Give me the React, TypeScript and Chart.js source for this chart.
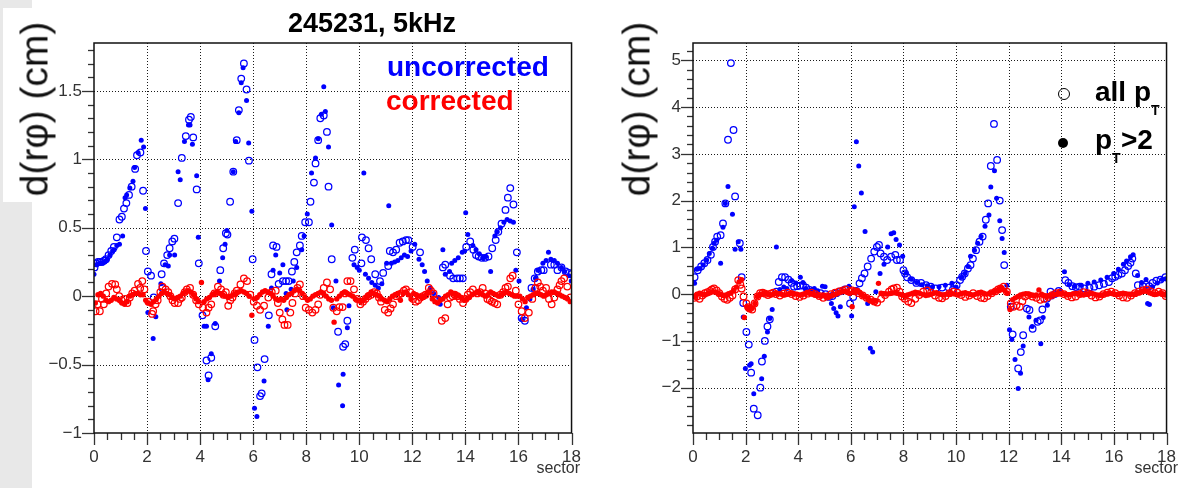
import React, { useEffect, useRef } from "react";
import { Chart, registerables } from "chart.js";

Chart.register(...registerables);

const FONT = '"Liberation Sans", Arial, Helvetica, sans-serif';
const BLUE = "#0000ff";
const RED = "#ff0000";

type Pt = [number, number];

// ---------- axis ticks ----------
const X_TICK_LABELS = [0, 2, 4, 6, 8, 10, 12, 14, 16, 18];
const X_MINOR_STEP = 0.5;
const LEFT_Y_TICK_LABELS = [-1, -0.5, 0, 0.5, 1, 1.5];
const LEFT_Y_MINOR_STEP = 0.1;
const RIGHT_Y_TICK_LABELS = [-2, -1, 0, 1, 2, 3, 4, 5];
const RIGHT_Y_MINOR_STEP = 0.2;

// sector bins (10 per sector) used for the dense "pT>2 corrected" series
const SECTOR_BINS = Array.from({ length: 180 }, (_, i) => (i + 0.5) / 10);

// ---------- LEFT PANEL (245231, 5kHz) ----------
const LEFT_UNCORR_ALL: Pt[] = [
  [0.02,0.21],[0.08,0.24],[0.15,0.25],[0.22,0.25],[0.3,0.25],[0.38,0.26],[0.45,0.27],[0.55,0.3],[0.65,0.33],[0.75,0.36],
  [0.86,0.43],[0.96,0.56],[1.05,0.58],[1.13,0.64],[1.22,0.68],[1.32,0.74],[1.42,0.8],[1.55,0.93],[1.62,1.03],[1.75,1.05],
  [1.85,0.77],[1.96,0.33],
  [2.03,0.18],[2.15,0.15],[2.25,-0.01],[2.55,0.16],[2.58,0.06],[2.64,0.24],[2.76,0.3],[2.85,0.35],[2.95,0.4],[3.03,0.42],
  [3.17,0.68],[3.31,1.01],[3.46,1.17],[3.58,1.29],[3.65,1.31],[3.74,1.16],[3.87,0.78],[3.95,0.24],
  [4.09,-0.14],[4.24,-0.47],[4.32,-0.58],[4.42,-0.45],[4.57,-0.22],[4.76,0.19],[4.87,0.35],[4.97,0.46],[5.03,0.45],[5.13,0.69],
  [5.25,0.91],[5.38,1.14],[5.46,1.36],[5.55,1.59],[5.65,1.7],[5.75,1.51],[5.84,0.99],[5.98,0.27],
  [6.05,-0.32],[6.16,-0.52],[6.26,-0.73],[6.32,-0.71],[6.43,-0.46],[6.59,-0.14],[6.69,0.16],[6.75,0.37],[6.88,0.36],[6.96,0.09],
  [7.12,0.11],[7.24,0.11],[7.34,0.11],[7.46,0.18],[7.55,0.25],[7.64,0.32],[7.76,0.37],[7.83,0.44],[7.96,0.54],
  [8.1,0.54],[8.16,0.69],[8.29,0.83],[8.35,0.97],[8.45,1.14],[8.53,1.3],[8.66,1.32],[8.78,1.2],[8.84,0.8],[8.96,0.27],
  [9.2,-0.26],[9.39,-0.37],[9.47,-0.35],[9.55,-0.18],[9.74,0.28],[9.83,0.34],
  [10.08,0.24],[10.1,0.43],[10.25,0.41],[10.35,0.35],[10.45,0.27],[10.6,0.16],[10.78,0.11],[10.9,0.17],[11.09,0.22],[11.15,0.33],
  [11.27,0.32],[11.39,0.34],[11.52,0.39],[11.64,0.4],[11.76,0.41],[11.85,0.41],[12.01,0.36],
  [12.29,0.32],[13.15,0.21],[13.24,0.23],[13.42,0.15],[13.54,0.13],[13.69,0.13],[13.79,0.13],[13.9,0.13],
  [14.03,0.36],[14.18,0.4],[14.3,0.34],[14.4,0.3],[14.5,0.29],[14.62,0.28],[14.74,0.28],[14.87,0.29],[15.01,0.35],[15.14,0.41],
  [15.24,0.47],[15.36,0.53],[15.51,0.63],[15.6,0.72],[15.69,0.79],[15.81,0.67],[15.94,0.32],
  [16.12,-0.16],[16.24,-0.18],[16.49,0.06],[16.61,0.13],[16.73,0.18],[16.86,0.19],[16.95,0.19],[17.22,0.23],[17.35,0.23],[17.47,0.19],
  [17.62,0.21],[17.78,0.18],[17.9,0.17],[17.99,0.16],
];

const LEFT_UNCORR_PT2: Pt[] = [
  [0.0,0.16],[0.1,0.23],[0.2,0.24],[0.3,0.24],[0.4,0.25],[0.5,0.27],[0.6,0.3],[0.7,0.33],[0.76,0.34],[0.86,0.37],
  [0.96,0.38],[1.08,0.44],[1.17,0.72],[1.23,0.74],[1.35,0.79],[1.47,0.84],[1.53,0.94],[1.66,1.05],[1.78,1.14],[1.87,1.09],[1.94,0.64],
  [2.03,-0.12],[2.23,-0.31],[2.33,-0.15],[2.52,0.09],[2.68,0.23],[2.8,0.22],[2.85,0.3],[3.04,0.3],[3.17,0.91],[3.25,0.85],
  [3.41,1.13],[3.56,1.25],[3.62,1.25],[3.71,1.11],[3.87,0.88],[3.93,0.43],
  [4.15,-0.22],[4.24,-0.22],[4.3,-0.61],[4.42,-0.42],[4.57,-0.2],[4.73,0.11],[4.85,0.28],[4.94,0.38],[5.01,0.48],[5.25,0.91],
  [5.34,1.13],[5.46,1.34],[5.55,1.56],[5.62,1.67],[5.75,1.43],[5.83,1.12],[5.95,0.62],
  [6.05,-0.82],[6.14,-0.88],[6.41,-0.62],[6.57,-0.22],[6.69,0.06],[6.75,0.19],[6.85,0.3],[7.0,0.17],[7.12,0.23],[7.24,0.02],
  [7.27,-0.1],[7.43,0.05],[7.51,0.11],[7.64,0.21],[7.83,0.34],[7.92,0.44],
  [8.04,0.6],[8.2,0.9],[8.35,1.01],[8.45,1.15],[8.57,1.33],[8.66,1.53],[8.72,1.35],[8.84,1.09],[8.96,0.52],[9.02,-0.085],
  [9.12,0.11],[9.22,-0.65],[9.37,-0.8],[9.39,-0.57],[9.55,-0.23],[9.61,-0.07],[9.8,0.23],[9.92,0.21],
  [10.0,0.19],[10.17,0.9],[10.23,0.16],[10.35,0.13],[10.47,0.1],[10.6,0.08],[10.72,0.06],[10.85,0.09],[11.03,0.24],[11.11,0.66],
  [11.21,0.24],[11.33,0.25],[11.45,0.26],[11.58,0.28],[11.7,0.3],[11.82,0.29],[11.95,0.33],
  [12.09,0.38],[12.25,0.27],[12.37,0.23],[12.46,0.18],[12.56,0.11],[12.68,0.06],[12.8,0.02],[12.99,-0.01],[13.05,-0.06],[13.15,0.34],
  [13.24,0.16],[13.4,0.18],[13.48,0.24],[13.6,0.26],[13.73,0.28],[13.88,0.32],[13.97,0.33],
  [14.01,0.61],[14.09,0.45],[14.28,0.37],[14.4,0.34],[14.52,0.31],[14.65,0.28],[14.77,0.29],[14.95,0.18],[15.11,0.44],[15.2,0.47],
  [15.32,0.5],[15.45,0.54],[15.57,0.56],[15.69,0.55],[15.81,0.54],[15.9,0.19],
  [16.02,0.11],[16.12,-0.17],[16.3,-0.085],[16.43,-0.02],[16.55,0.05],[16.64,0.13],[16.73,0.19],[16.92,0.24],[17.04,0.26],[17.13,0.32],
  [17.22,0.27],[17.35,0.26],[17.47,0.24],[17.62,0.21],[17.74,0.18],[17.9,0.15],[17.99,0.11],
];

const LEFT_CORR_ALL: Pt[] = [
  [0.06,-0.11],[0.14,-0.06],[0.22,-0.11],[0.3,-0.02],[0.37,-0.06],[0.46,0.02],[0.55,0.07],[0.68,0.09],[0.8,0.085],[0.86,0.05],
  [0.95,0.0],[1.04,-0.03],[1.17,-0.02],[1.26,-0.05],[1.35,-0.01],[1.44,0.02],[1.53,0.04],[1.66,0.09],[1.74,0.06],[1.82,0.11],
  [1.9,0.05],[2.05,-0.04],[2.19,-0.13],[2.23,-0.11],[2.32,-0.06],[2.4,-0.03],[2.5,0.03],[2.58,0.07],[2.7,0.05],[2.8,0.03],
  [2.88,0.0],[2.96,-0.03],[3.04,-0.05],[3.17,-0.05],[3.24,-0.02],[3.31,-0.01],[3.42,0.03],[3.5,0.05],[3.62,0.06],[3.74,0.01],
  [3.85,-0.03],[3.95,-0.06],[4.11,-0.085],[4.24,-0.12],[4.32,-0.085],[4.42,-0.06],[4.54,0.02],[4.67,0.07],[4.79,0.05],[4.88,0.01],
  [4.97,0.03],[5.06,-0.07],[5.14,-0.03],[5.22,-0.01],[5.3,0.02],[5.38,0.04],[5.52,0.085],[5.65,0.13],[5.77,0.11],[5.89,0.01],
  [6.02,-0.04],[6.14,-0.07],[6.26,-0.1],[6.41,-0.07],[6.57,-0.01],[6.7,0.03],[6.85,0.04],[6.93,-0.05],[7.0,-0.12],[7.1,-0.17],
  [7.18,-0.21],[7.3,-0.21],[7.4,-0.12],[7.48,-0.05],[7.58,0.02],[7.67,0.06],[7.76,0.085],[7.88,0.0],[7.98,-0.085],[8.1,-0.1],
  [8.23,-0.12],[8.35,-0.1],[8.45,-0.06],[8.53,0.01],[8.66,0.06],[8.78,0.1],[8.9,0.05],[9.02,-0.085],[9.15,-0.11],[9.25,-0.08],
  [9.37,-0.08],[9.46,0.02],[9.55,0.11],[9.67,0.11],[9.8,0.05],[9.92,-0.02],[10.04,-0.06],[10.14,-0.04],[10.23,-0.02],[10.34,0.0],
  [10.45,0.01],[10.56,0.03],[10.66,0.02],[10.74,-0.01],[10.82,-0.04],[10.96,-0.1],[11.09,-0.12],[11.18,-0.09],[11.27,-0.06],[11.39,0.0],
  [11.48,0.01],[11.58,0.02],[11.68,0.04],[11.76,0.05],[11.92,0.03],[12.03,-0.02],[12.13,-0.04],[12.22,-0.03],[12.31,-0.01],[12.4,0.0],
  [12.5,0.01],[12.62,0.06],[12.7,0.04],[12.8,0.02],[12.95,-0.03],[13.11,-0.18],[13.24,-0.16],[13.33,-0.06],[13.42,-0.01],[13.52,0.0],
  [13.6,0.01],[13.7,0.0],[13.79,-0.02],[13.91,-0.05],[14.0,-0.02],[14.09,0.01],[14.18,0.03],[14.28,0.05],[14.45,0.02],[14.55,0.03],
  [14.65,0.06],[14.74,0.02],[14.83,-0.02],[14.92,-0.03],[15.0,-0.04],[15.1,-0.05],[15.2,-0.06],[15.32,0.01],[15.42,0.03],[15.51,0.06],
  [15.6,0.07],[15.69,0.13],[15.78,0.15],[15.9,0.04],[16.0,-0.06],[16.12,-0.11],[16.24,-0.16],[16.39,-0.12],[16.52,-0.02],[16.64,0.06],
  [16.73,0.1],[16.82,0.07],[16.92,0.04],[17.04,0.06],[17.15,-0.02],[17.25,-0.06],[17.35,-0.01],[17.47,0.05],[17.55,0.08],[17.62,0.11],
  [17.72,0.13],[17.84,0.07],[17.96,-0.01],
];

const LEFT_CORR_PT2: number[] = [
  -0.05,0.01,0.02,0.0,-0.03,-0.04,-0.03,-0.01,-0.02,-0.03,
  -0.05,-0.06,-0.04,0.0,0.01,0.02,0.02,0.01,0.01,-0.03,
  -0.05,-0.06,-0.04,-0.02,0.0,0.02,0.03,0.02,0.01,-0.01,
  -0.02,-0.01,0.0,0.02,0.03,0.04,0.03,0.01,-0.02,-0.04,
  0.1,-0.04,-0.02,-0.01,0.01,0.02,0.03,0.02,0.01,0.0,
  -0.01,0.0,0.01,0.02,0.03,0.04,0.03,0.02,0.0,-0.14,
  -0.02,-0.01,0.01,0.03,0.04,0.03,0.02,0.0,-0.02,-0.03,
  -0.02,-0.03,-0.01,0.01,0.02,0.04,0.05,0.04,0.02,-0.01,
  -0.03,-0.02,0.0,0.01,0.02,0.03,0.02,0.0,-0.02,-0.03,
  -0.19,-0.02,0.0,0.02,0.03,0.02,0.01,0.0,-0.02,-0.03,
  -0.04,-0.03,-0.01,0.01,0.03,0.02,0.01,0.0,-0.02,-0.03,
  -0.04,-0.02,0.0,0.01,0.02,-0.03,0.02,0.03,0.01,-0.02,
  0.02,0.01,0.0,-0.01,0.0,0.02,0.03,-0.02,-0.04,-0.05,
  -0.03,-0.02,0.0,0.01,0.03,0.02,0.01,0.0,-0.01,-0.03,
  -0.02,-0.01,0.01,0.02,0.03,0.02,0.01,0.0,0.01,0.03,
  0.02,0.01,0.0,0.01,0.02,0.03,0.02,0.01,0.0,0.0,
  0.0,-0.02,-0.04,-0.01,0.0,0.01,0.02,0.02,0.01,0.0,
  0.01,0.02,0.03,0.03,0.02,0.01,0.0,-0.01,-0.02,-0.04,
];

// ---------- RIGHT PANEL ----------
const RIGHT_UNCORR_ALL: Pt[] = [
  [0.06,0.36],[0.18,0.51],[0.31,0.59],[0.43,0.66],[0.55,0.73],[0.68,0.84],[0.76,1.01],[0.84,1.12],[0.92,1.23],[1.05,1.26],
  [1.14,1.51],[1.23,1.94],[1.33,3.3],[1.44,4.94],[1.54,3.51],[1.6,2.09],[1.78,1.09],[1.85,0.36],[1.91,-0.19],[2.03,-0.81],
  [2.12,-1.08],[2.21,-1.68],[2.31,-2.45],[2.46,-2.59],[2.56,-2.0],[2.62,-1.44],[2.73,-1.0],[2.83,-0.69],[2.92,-0.54],[3.17,0.05],
  [3.26,0.26],[3.38,0.36],[3.5,0.36],[3.63,0.31],[3.75,0.24],[3.84,0.16],[3.96,0.17],[4.07,0.18],[4.18,0.19],[4.3,0.14],
  [4.43,0.09],[4.58,0.07],[4.67,0.01],[4.85,0.02],[5.04,0.0],[5.17,-0.06],[5.3,-0.04],[5.45,0.02],[5.6,0.06],[5.78,0.1],
  [5.97,-0.2],[6.09,-0.06],[6.21,0.07],[6.33,0.23],[6.42,0.34],[6.52,0.44],[6.64,0.59],[6.77,0.76],[6.89,0.91],[6.99,1.01],
  [7.07,1.05],[7.13,0.87],[7.26,0.8],[7.38,0.73],[7.53,0.8],[7.69,0.84],[7.75,0.73],[7.87,0.73],[8.0,0.51],[8.06,0.44],
  [8.14,0.36],[8.3,0.3],[8.49,0.24],[8.67,0.24],[8.86,0.19],[9.04,0.16],[9.22,0.12],[9.47,0.14],[9.72,0.14],[9.88,0.1],
  [10.02,0.19],[10.15,0.3],[10.23,0.37],[10.33,0.44],[10.45,0.55],[10.55,0.62],[10.64,0.76],[10.76,0.94],[10.89,1.12],[11.01,1.23],
  [11.13,1.59],[11.22,1.94],[11.32,2.74],[11.44,3.64],[11.56,2.87],[11.66,2.0],[11.75,1.37],[11.83,0.62],[12.08,-0.27],[12.15,-0.86],
  [12.36,-1.59],[12.46,-1.24],[12.55,-0.88],[12.69,-0.31],[12.79,-0.34],[12.91,-0.74],[13.1,-0.59],[13.19,-0.56],[13.28,-0.33],[13.45,-0.1],
  [13.59,0.05],[13.75,0.0],[13.9,0.07],[14.15,0.3],[14.27,0.24],[14.42,0.17],[14.55,0.15],[14.7,0.16],[14.88,0.12],[15.07,0.14],
  [15.25,0.16],[15.44,0.19],[15.62,0.22],[15.81,0.26],[15.93,0.34],[16.05,0.37],[16.17,0.41],[16.3,0.44],[16.42,0.51],[16.54,0.6],
  [16.63,0.67],[16.7,0.76],[16.83,0.44],[16.91,0.19],[17.1,0.17],[17.22,0.2],[17.34,0.17],[17.47,0.24],[17.61,0.29],[17.77,0.31],
  [17.96,0.36],
];

const RIGHT_UNCORR_PT2: Pt[] = [
  [0.06,0.23],[0.15,0.53],[0.27,0.55],[0.39,0.62],[0.52,0.73],[0.62,0.87],[0.74,0.98],[0.8,1.09],[0.9,1.15],[1.05,0.66],
  [1.14,1.43],[1.23,1.94],[1.33,2.3],[1.5,1.71],[1.6,0.96],[1.72,1.12],[1.82,0.96],[1.91,-0.49],[1.99,-1.59],[2.15,-1.52],
  [2.21,-1.49],[2.31,-2.13],[2.61,-1.81],[2.71,-1.33],[2.83,-0.81],[2.92,-0.52],[3.01,-0.33],[3.17,1.01],[3.3,0.1],[3.45,0.15],
  [3.57,0.12],[3.75,0.29],[3.91,0.24],[4.08,0.36],[4.18,0.25],[4.28,0.12],[4.45,0.08],[4.61,0.12],[4.74,0.07],[4.92,0.17],
  [5.02,0.16],[5.15,-0.05],[5.26,-0.2],[5.35,-0.31],[5.44,-0.4],[5.51,-0.47],[5.6,-0.27],[5.75,0.05],[5.93,0.17],[6.03,-0.47],
  [6.13,1.87],[6.21,3.26],[6.3,2.74],[6.4,2.16],[6.54,1.34],[6.64,-0.2],[6.74,-1.16],[6.83,-1.24],[6.95,0.05],[7.11,0.44],
  [7.26,0.64],[7.4,1.01],[7.53,1.29],[7.63,1.31],[7.72,1.17],[7.85,1.05],[7.97,0.81],[8.1,0.45],[8.3,0.32],[8.5,0.25],
  [8.7,0.2],[8.9,0.18],[9.1,0.16],[9.35,0.16],[9.59,0.19],[9.84,0.23],[10.0,0.15],[10.21,0.36],[10.33,0.44],[10.45,0.59],
  [10.55,0.81],[10.7,0.94],[10.82,1.09],[10.95,1.23],[11.1,1.45],[11.25,1.69],[11.32,2.29],[11.46,2.64],[11.54,2.05],[11.66,1.57],
  [11.75,1.19],[11.83,0.89],[11.93,0.19],[12.03,-0.76],[12.12,-0.97],[12.24,-1.4],[12.36,-2.02],[12.45,-1.69],[12.55,-1.11],[12.77,-0.49],
  [12.89,-0.69],[13.04,-0.56],[13.22,-1.06],[13.31,-0.5],[13.47,-0.24],[13.65,-0.06],[13.84,0.01],[13.96,0.07],[14.12,0.48],[14.3,0.2],
  [14.51,0.17],[14.76,0.19],[15.01,0.23],[15.25,0.26],[15.5,0.3],[15.74,0.36],[15.99,0.44],[16.17,0.53],[16.36,0.64],[16.48,0.71],
  [16.63,0.8],[16.73,0.84],[16.9,0.4],[17.05,0.25],[17.22,0.31],[17.28,-0.2],[17.35,-0.22],[17.47,0.16],[17.65,0.24],[17.83,0.31],
  [17.97,0.33],
];

const RIGHT_CORR_ALL: Pt[] = [
  [0.05,-0.08],[0.15,-0.05],[0.25,-0.1],[0.35,-0.03],[0.45,0.02],[0.55,0.04],[0.65,0.07],[0.72,0.1],[0.8,0.12],[0.9,0.08],
  [1.0,0.02],[1.1,-0.05],[1.2,-0.1],[1.3,-0.12],[1.4,-0.08],[1.5,-0.03],[1.6,0.1],[1.72,0.3],[1.8,0.2],[1.85,0.12],[1.92,-0.05],
  [2.03,-0.2],[2.1,-0.28],[2.15,-0.31],[2.25,-0.33],[2.34,-0.2],[2.45,-0.05],[2.55,0.02],[2.65,0.03],[2.75,0.01],[2.85,-0.02],
  [2.95,0.01],[3.05,0.03],[3.15,0.0],[3.3,-0.03],[3.45,0.01],[3.6,0.03],[3.75,0.0],[3.9,-0.04],
  [4.05,-0.06],[4.2,-0.03],[4.35,0.01],[4.5,0.03],[4.65,0.0],[4.8,-0.04],[4.95,-0.08],[5.1,-0.05],[5.25,0.0],[5.4,0.03],
  [5.55,0.06],[5.7,0.08],[5.82,0.1],[5.95,0.05],
  [6.05,0.08],[6.15,0.06],[6.3,0.02],[6.45,-0.03],[6.6,-0.08],[6.75,-0.12],[6.89,-0.16],[7.0,-0.18],[7.15,-0.1],[7.3,-0.02],
  [7.45,0.05],[7.55,0.1],[7.63,0.12],[7.75,0.14],[7.85,0.05],[7.95,-0.05],
  [8.05,-0.1],[8.18,-0.16],[8.3,-0.19],[8.45,-0.1],[8.6,-0.02],[8.75,0.05],[8.9,0.08],[9.05,0.03],[9.2,-0.03],[9.35,-0.08],
  [9.47,-0.09],[9.6,-0.04],[9.75,0.02],[9.9,0.05],
  [10.05,0.03],[10.2,-0.02],[10.35,-0.06],[10.5,-0.03],[10.65,0.02],[10.8,-0.04],[10.95,-0.08],[11.07,-0.09],[11.2,-0.04],[11.35,0.02],
  [11.5,0.06],[11.6,0.1],[11.69,0.12],[11.81,0.16],[11.93,0.05],
  [12.08,-0.2],[12.18,-0.27],[12.3,-0.24],[12.42,-0.27],[12.52,-0.15],[12.62,-0.05],[12.75,-0.02],[12.9,-0.05],[13.05,-0.08],[13.2,-0.12],
  [13.35,-0.1],[13.5,-0.06],[13.65,-0.02],[13.8,0.02],[13.95,0.03],
  [14.1,0.0],[14.25,-0.04],[14.4,-0.07],[14.55,-0.05],[14.7,0.0],[14.85,0.04],[15.0,0.02],[15.15,-0.03],[15.3,-0.07],[15.45,-0.05],
  [15.6,0.0],[15.75,0.03],[15.9,0.05],
  [16.05,0.02],[16.2,-0.03],[16.35,-0.07],[16.5,-0.08],[16.65,-0.03],[16.8,0.02],[16.95,0.05],[17.1,0.08],[17.25,0.1],[17.4,0.06],
  [17.55,0.02],[17.7,0.05],[17.85,0.02],[17.97,-0.04],
];

const RIGHT_CORR_PT2: number[] = [
  -0.05,0.0,0.02,0.0,-0.02,0.01,0.03,0.05,0.04,0.02,
  0.0,-0.03,-0.02,0.01,0.03,0.08,0.15,0.26,0.31,-0.5,
  -0.27,-0.31,-0.3,-0.2,-0.05,0.0,0.01,0.02,0.0,-0.02,
  0.0,0.02,0.01,0.0,-0.02,-0.01,0.01,0.02,0.01,0.0,
  -0.02,-0.01,0.01,0.03,0.02,0.0,-0.01,-0.03,-0.04,-0.02,
  -0.05,-0.06,-0.04,-0.02,0.0,0.03,0.05,0.06,0.04,0.02,
  -0.27,0.05,0.08,0.03,-0.03,-0.06,-0.1,-0.14,-0.16,-0.15,
  0.23,0.02,0.01,0.0,0.01,0.02,0.03,0.02,0.0,-0.02,
  -0.04,-0.02,0.0,0.02,0.04,0.03,0.01,-0.01,-0.03,-0.02,
  0.0,0.02,0.03,0.01,-0.01,-0.02,0.0,0.02,0.01,0.0,
  -0.02,0.0,0.02,0.03,0.01,-0.01,-0.02,0.0,0.03,0.04,
  0.02,0.0,0.01,0.03,0.05,0.07,0.1,0.12,0.08,0.02,
  -0.33,-0.12,-0.08,-0.05,-0.02,0.0,0.01,0.0,-0.02,-0.03,
  -0.02,0.09,0.0,-0.03,-0.05,-0.04,-0.02,0.0,0.01,0.02,
  0.01,0.0,-0.02,-0.01,0.01,0.02,0.01,-0.01,-0.02,0.0,
  0.01,0.02,0.0,-0.02,-0.03,-0.02,0.0,0.01,0.02,0.01,
  0.0,-0.01,0.01,0.02,0.01,0.0,-0.01,0.0,0.02,0.03,
  0.05,0.08,0.06,0.03,0.01,-0.01,0.0,0.02,0.01,-0.02,
];

// ---------- helpers ----------
const fromPairs = (pts: Pt[]) => pts.map(([x, y]) => ({ x, y }));
const fromBins = (ys: number[]) => ys.map((y, i) => ({ x: SECTOR_BINS[i], y }));

function makeSet(label: string, data: { x: number; y: number }[], color: string, open: boolean, r: number) {
  return {
    label,
    data,
    showLine: false,
    pointStyle: "circle",
    pointRadius: r,
    pointHoverRadius: r,
    borderWidth: open ? 1.25 : 0,
    pointBorderWidth: open ? 1.25 : 0,
    borderColor: color,
    backgroundColor: open ? "rgba(0,0,0,0)" : color,
    pointBorderColor: color,
    pointBackgroundColor: open ? "rgba(0,0,0,0)" : color,
  };
}

function stepTicks(min: number, max: number, step: number): number[] {
  const out: number[] = [];
  const n0 = Math.ceil(min / step - 1e-9);
  const n1 = Math.floor(max / step + 1e-9);
  for (let n = n0; n <= n1; n++) out.push(Number((n * step).toFixed(6)));
  return out;
}
const isMajor = (arr: number[], v: number) => arr.some((m) => Math.abs(m - v) < 1e-6);
const fmt = (v: number) => (v < 0 ? "\u2212" + String(Math.abs(v)) : String(v));

interface PanelProps {
  left: number;
  datasets: any[];
  yMin: number;
  yMax: number;
  yLabels: number[];
  yStep: number;
  yAxisWidth: number;
  padRight: number;
}

function Panel({ left, datasets, yMin, yMax, yLabels, yStep, yAxisWidth, padRight }: PanelProps) {
  const ref = useRef<HTMLCanvasElement | null>(null);
  useEffect(() => {
    if (!ref.current) return;
    const yMinor = stepTicks(yMin, yMax, yStep);
    const xMinor = stepTicks(0, 18, X_MINOR_STEP);
    const frame = {
      id: "rootFrame",
      beforeDatasetsDraw(chart: any) {
        const { ctx, chartArea: a, scales } = chart;
        ctx.save();
        ctx.strokeStyle = "#1a1a1a";
        ctx.lineWidth = 1;
        ctx.setLineDash([1, 2]);
        for (const v of X_TICK_LABELS) {
          if (v <= 0 || v >= 18) continue;
          const x = Math.round(scales.x.getPixelForValue(v)) + 0.5;
          ctx.beginPath();
          ctx.moveTo(x, a.top);
          ctx.lineTo(x, a.bottom);
          ctx.stroke();
        }
        for (const v of yLabels) {
          if (v <= yMin + 1e-6 || v >= yMax - 1e-6) continue;
          const y = Math.round(scales.y.getPixelForValue(v)) + 0.5;
          ctx.beginPath();
          ctx.moveTo(a.left, y);
          ctx.lineTo(a.right, y);
          ctx.stroke();
        }
        ctx.restore();
      },
      afterDatasetsDraw(chart: any) {
        const { ctx, chartArea: a, scales } = chart;
        ctx.save();
        ctx.setLineDash([]);
        ctx.strokeStyle = "#333";
        ctx.lineWidth = 1.3;
        for (const v of xMinor) {
          const x = Math.round(scales.x.getPixelForValue(v)) + 0.5;
          const len = isMajor(X_TICK_LABELS, v) ? 12 : 7;
          ctx.beginPath();
          ctx.moveTo(x, a.bottom);
          ctx.lineTo(x, a.bottom + len);
          ctx.stroke();
        }
        for (const v of yMinor) {
          const y = Math.round(scales.y.getPixelForValue(v)) + 0.5;
          const len = isMajor(yLabels, v) ? 12 : 6;
          ctx.beginPath();
          ctx.moveTo(a.left, y);
          ctx.lineTo(a.left - len, y);
          ctx.stroke();
        }
        ctx.strokeStyle = "#111";
        ctx.lineWidth = 1.5;
        ctx.strokeRect(a.left, a.top, a.right - a.left, a.bottom - a.top);
        ctx.restore();
      },
    };
    const tickFont = { family: FONT, size: 17 };
    const chart = new Chart(ref.current, {
      type: "scatter",
      data: { datasets },
      options: {
        animation: false,
        responsive: false,
        devicePixelRatio: 1,
        events: [],
        layout: { autoPadding: false, padding: { top: 43, right: padRight, left: 0, bottom: 0 } },
        plugins: { legend: { display: false }, tooltip: { enabled: false }, title: { display: false } },
        scales: {
          x: {
            type: "linear",
            min: 0,
            max: 18,
            grid: { display: false, drawTicks: false },
            border: { display: false },
            afterBuildTicks: (s: any) => {
              s.ticks = xMinor.map((v) => ({ value: v }));
            },
            afterFit: (s: any) => {
              s.height = 55;
            },
            ticks: {
              autoSkip: false,
              maxRotation: 0,
              padding: 14,
              color: "#333",
              font: tickFont,
              callback: (v: any) => (isMajor(X_TICK_LABELS, Number(v)) ? fmt(Number(v)) : ""),
            },
          },
          y: {
            type: "linear",
            min: yMin,
            max: yMax,
            grid: { display: false, drawTicks: false },
            border: { display: false },
            afterBuildTicks: (s: any) => {
              s.ticks = yMinor.map((v) => ({ value: v }));
            },
            afterFit: (s: any) => {
              s.width = yAxisWidth;
            },
            ticks: {
              autoSkip: false,
              padding: 12,
              color: "#333",
              font: tickFont,
              callback: (v: any) => (isMajor(yLabels, Number(v)) ? fmt(Number(v)) : ""),
            },
          },
        },
      } as any,
      plugins: [frame],
    } as any);
    return () => chart.destroy();
  }, []);
  return (
    <canvas
      ref={ref}
      width={595}
      height={488}
      style={{ position: "absolute", left, top: 0, width: 595, height: 488 }}
    />
  );
}

const textBase: React.CSSProperties = {
  position: "absolute",
  fontFamily: FONT,
  lineHeight: 1,
  whiteSpace: "nowrap",
  margin: 0,
};

export default function App() {
  const leftSets = [
    makeSet("corrected, pT>2", fromBins(LEFT_CORR_PT2), RED, false, 2.7),
    makeSet("corrected, all pT", fromPairs(LEFT_CORR_ALL), RED, true, 3.3),
    makeSet("uncorrected, pT>2", fromPairs(LEFT_UNCORR_PT2), BLUE, false, 2.5),
    makeSet("uncorrected, all pT", fromPairs(LEFT_UNCORR_ALL), BLUE, true, 3.3),
  ];
  const rightSets = [
    makeSet("corrected, pT>2", fromBins(RIGHT_CORR_PT2), RED, false, 2.7),
    makeSet("corrected, all pT", fromPairs(RIGHT_CORR_ALL), RED, true, 3.3),
    makeSet("uncorrected, pT>2", fromPairs(RIGHT_UNCORR_PT2), BLUE, false, 2.5),
    makeSet("uncorrected, all pT", fromPairs(RIGHT_UNCORR_ALL), BLUE, true, 3.3),
  ];
  return (
    <div
      style={{
        position: "absolute",
        left: 0,
        top: 0,
        width: 1190,
        height: 488,
        background: "#ffffff",
        overflow: "hidden",
      }}
    >
      <div style={{ position: "absolute", left: 0, top: 0, width: 32, height: 488, background: "#e8e8e8" }} />
      <div style={{ position: "absolute", left: 3, top: 8, width: 29, height: 194, background: "#ffffff" }} />

      <Panel
        left={0}
        datasets={leftSets}
        yMin={-1}
        yMax={1.85}
        yLabels={LEFT_Y_TICK_LABELS}
        yStep={LEFT_Y_MINOR_STEP}
        yAxisWidth={94}
        padRight={12}
      />
      <Panel
        left={595}
        datasets={rightSets}
        yMin={-2.97}
        yMax={5.37}
        yLabels={RIGHT_Y_TICK_LABELS}
        yStep={RIGHT_Y_MINOR_STEP}
        yAxisWidth={98}
        padRight={9}
      />

      {/* left title */}
      <div style={{ ...textBase, left: 372, top: 10, fontSize: 27, fontWeight: 700, color: "#000", transform: "translateX(-50%)" }}>
        245231, 5kHz
      </div>

      {/* y titles */}
      <div style={{ ...textBase, left: 34, top: 109, fontSize: 39, color: "#111", transform: "translate(-50%, -50%) rotate(-90deg)" }}>
        d(rφ) (cm)
      </div>
      <div style={{ ...textBase, left: 636, top: 109, fontSize: 39, color: "#111", transform: "translate(-50%, -50%) rotate(-90deg)" }}>
        d(rφ) (cm)
      </div>

      {/* x titles */}
      <div style={{ ...textBase, right: 1190 - 580, top: 460, fontSize: 16, color: "#333" }}>sector</div>
      <div style={{ ...textBase, right: 1190 - 1178, top: 460, fontSize: 16, color: "#333" }}>sector</div>

      {/* left legend */}
      <div style={{ ...textBase, left: 387, top: 53, fontSize: 28, fontWeight: 700, color: BLUE }}>uncorrected</div>
      <div style={{ ...textBase, left: 386, top: 87, fontSize: 28, fontWeight: 700, color: RED }}>corrected</div>

      {/* right legend */}
      <div
        style={{
          position: "absolute",
          left: 1064 - 6.5,
          top: 94 - 6.5,
          width: 10,
          height: 10,
          borderRadius: "50%",
          border: "1.5px solid #000",
          background: "transparent",
        }}
      />
      <div
        style={{
          position: "absolute",
          left: 1063 - 5,
          top: 143 - 5,
          width: 10,
          height: 10,
          borderRadius: "50%",
          background: "#000",
        }}
      />
      <div style={{ ...textBase, left: 1095, top: 78, fontSize: 28, fontWeight: 700, color: "#000" }}>all p</div>
      <div style={{ ...textBase, left: 1151, top: 103, fontSize: 14, fontWeight: 700, color: "#000" }}>T</div>
      <div style={{ ...textBase, left: 1095, top: 126, fontSize: 28, fontWeight: 700, color: "#000" }}>p</div>
      <div style={{ ...textBase, left: 1112, top: 151, fontSize: 14, fontWeight: 700, color: "#000" }}>T</div>
      <div style={{ ...textBase, left: 1121, top: 126, fontSize: 28, fontWeight: 700, color: "#000" }}>&gt;2</div>
    </div>
  );
}
